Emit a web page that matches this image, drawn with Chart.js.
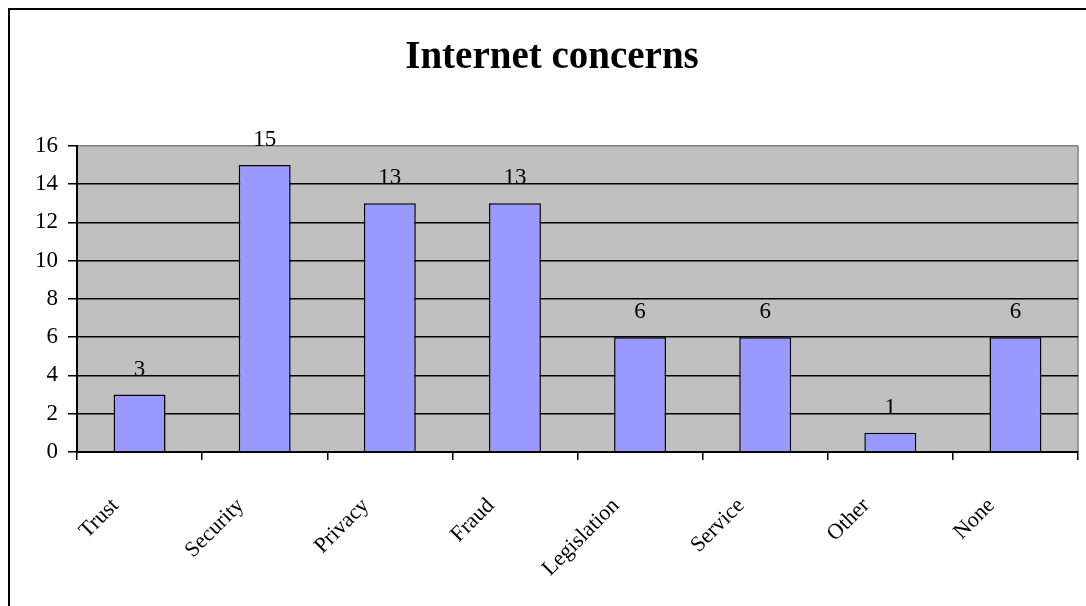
<!DOCTYPE html>
<html>
<head>
<meta charset="utf-8">
<script src="https://cdn.jsdelivr.net/npm/chart.js@4"></script>
<style>
  html, body { margin: 0; padding: 0; background: #fff; overflow: hidden; width: 1086px; height: 606px; }
  #frame { position: absolute; left: 8px; top: 8px; width: 1200px; height: 700px; border: 2px solid #000; box-sizing: border-box; }
  #wrap { position: absolute; left: 0; top: 0; width: 1086px; height: 606px; }
</style>
</head>
<body>
<div id="frame"></div>
<div id="wrap"><canvas id="c" width="1086" height="606"></canvas></div>
<script>
const categories = ["Trust", "Security", "Privacy", "Fraud", "Legislation", "Service", "Other", "None"];
const values = [3, 15, 13, 13, 6, 6, 1, 6];
const yTicks = [0, 2, 4, 6, 8, 10, 12, 14, 16];
const chartTitle = "Internet concerns";

const plotBg = {
  id: 'plotBg',
  beforeDraw(chart) {
    const {ctx, chartArea: a} = chart;
    ctx.save();
    ctx.fillStyle = '#C0C0C0';
    ctx.fillRect(a.left, a.top, a.right - a.left, a.bottom - a.top);
    ctx.strokeStyle = '#808080';
    ctx.lineWidth = 1.5;
    ctx.beginPath();
    ctx.moveTo(a.right, a.bottom);
    ctx.lineTo(a.right, a.top);
    ctx.stroke();
    ctx.restore();
  }
};

const valueLabels = {
  id: 'valueLabels',
  afterDatasetsDraw(chart) {
    const {ctx} = chart;
    const meta = chart.getDatasetMeta(0);
    ctx.save();
    ctx.font = '23px "Liberation Serif", "Times New Roman", serif';
    ctx.fillStyle = '#000';
    ctx.textAlign = 'center';
    ctx.textBaseline = 'alphabetic';
    meta.data.forEach((bar, i) => {
      ctx.fillText(String(values[i]), bar.x, bar.y - 19);
    });
    ctx.restore();
  }
};

new Chart(document.getElementById('c'), {
  type: 'bar',
  data: {
    labels: categories,
    datasets: [{
      data: values,
      backgroundColor: '#9999FF',
      borderColor: '#000',
      borderWidth: 1.5,
      categoryPercentage: 1,
      barPercentage: 0.415
    }]
  },
  options: {
    responsive: false,
    animation: false,
    events: [],
    layout: { padding: { left: 26, right: 8, top: 0, bottom: 0 } },
    plugins: {
      legend: { display: false },
      tooltip: { enabled: false },
      title: {
        display: true,
        text: chartTitle,
        color: '#000',
        font: { family: '"Liberation Serif", "Times New Roman", serif', size: 39, weight: 'bold', lineHeight: 1.2 },
        padding: { top: 35, bottom: 64 }
      }
    },
    scales: {
      x: {
        offset: true,
        grid: { offset: true, drawOnChartArea: false, drawTicks: true, tickLength: 8, color: '#000', lineWidth: 1.5 },
        border: { display: true, color: '#000', width: 2 },
        ticks: {
          color: '#000',
          maxRotation: 45,
          minRotation: 45,
          autoSkip: false,
          padding: 33,
          labelOffset: -24,
          font: { family: '"Liberation Serif", "Times New Roman", serif', size: 22 }
        },
        afterFit(scale) { scale.height = 154; }
      },
      y: {
        min: 0,
        max: 16,
        afterBuildTicks(scale) { scale.ticks = yTicks.map(v => ({ value: v })); },
        grid: {
          color: (ctx) => (ctx.tick && ctx.tick.value === 16 ? '#808080' : '#000'),
          tickColor: '#000',
          lineWidth: 1.5,
          tickLength: 9
        },
        border: { display: true, color: '#000', width: 2 },
        ticks: {
          color: '#000',
          padding: 10,
          font: { family: '"Liberation Serif", "Times New Roman", serif', size: 23 }
        },
        afterFit(scale) { scale.width = 51; }
      }
    }
  },
  plugins: [plotBg, valueLabels]
});
</script>
</body>
</html>
